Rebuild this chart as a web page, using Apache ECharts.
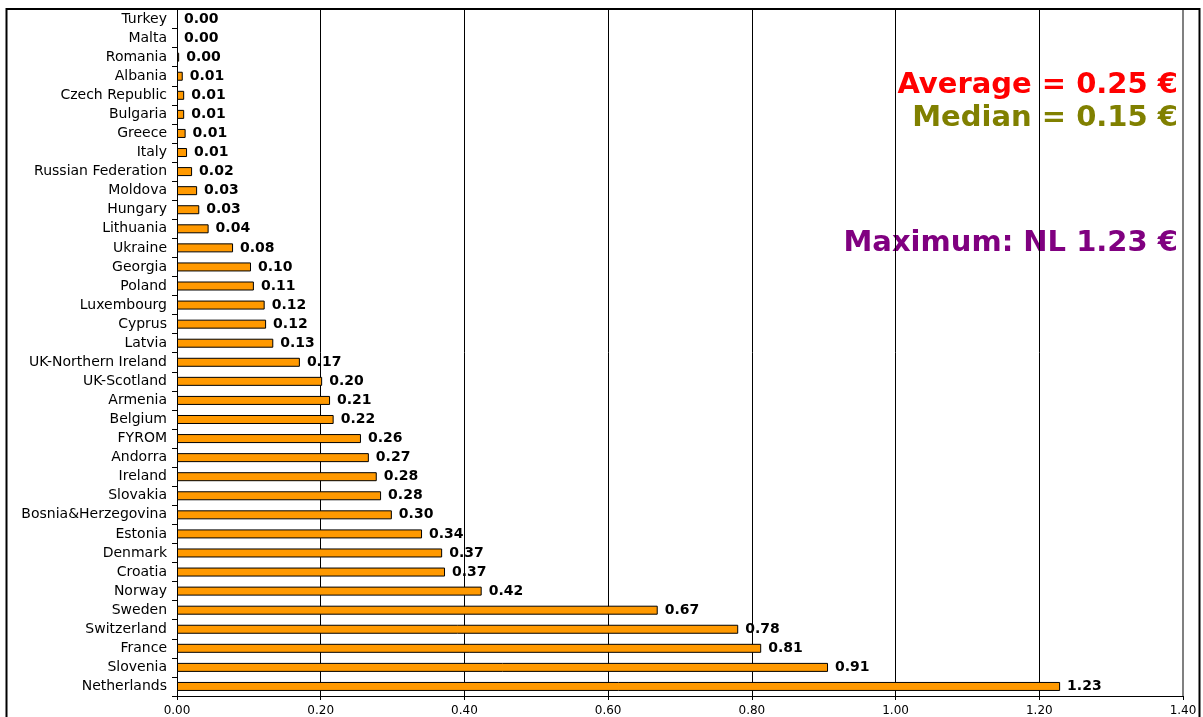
<!DOCTYPE html>
<html>
<head>
<meta charset="utf-8">
<script src="https://cdn.jsdelivr.net/npm/echarts@6/dist/echarts.min.js"></script>
<style>
  html, body { margin: 0; padding: 0; background: #ffffff; }
  #chart { width: 1203px; height: 717px; }
</style>
</head>
<body>
<div id="chart"></div>
<script>
// Countries, top to bottom
const countries = [
  'Turkey', 'Malta', 'Romania', 'Albania', 'Czech Republic', 'Bulgaria', 'Greece', 'Italy',
  'Russian Federation', 'Moldova', 'Hungary', 'Lithuania', 'Ukraine', 'Georgia', 'Poland',
  'Luxembourg', 'Cyprus', 'Latvia', 'UK-Northern Ireland', 'UK-Scotland', 'Armenia', 'Belgium',
  'FYROM', 'Andorra', 'Ireland', 'Slovakia', 'Bosnia&Herzegovina', 'Estonia', 'Denmark',
  'Croatia', 'Norway', 'Sweden', 'Switzerland', 'France', 'Slovenia', 'Netherlands'
];

// Amount per inhabitant (€)
const amounts = [
  0.000, 0.000, 0.003, 0.008, 0.010, 0.010, 0.012, 0.014,
  0.021, 0.028, 0.031, 0.044, 0.078, 0.103, 0.107,
  0.122, 0.124, 0.134, 0.171, 0.202, 0.213, 0.218,
  0.256, 0.267, 0.278, 0.284, 0.299, 0.341, 0.369,
  0.373, 0.424, 0.669, 0.781, 0.813, 0.906, 1.229
];

// Value axis ticks
const axisMin = 0;
const axisMax = 1.4;
const axisStep = 0.2;

// Summary statistics shown at the top right
const summaryLines = [
  { text: 'Average = 0.25 €', color: '#ff0000' },
  { text: 'Median = 0.15 €', color: '#808000' },
  { text: 'Maximum: NL 1.23 €', color: '#800080' }
];

const chart = echarts.init(document.getElementById('chart'), null, { renderer: 'canvas' });

const FONT = '"DejaVu Sans", Verdana, sans-serif';

// zero-height bars are left without an outline
const barData = amounts.map(v => (v === 0 ? { value: v, itemStyle: { borderWidth: 0 } } : v));

chart.setOption({
  animation: false,
  backgroundColor: '#ffffff',
  grid: { left: 177, right: 20, top: 9.5, bottom: 21, containLabel: false },
  xAxis: {
    type: 'value',
    min: axisMin,
    max: axisMax,
    interval: axisStep,
    axisLine: { show: true, lineStyle: { color: '#000000', width: 1 } },
    axisTick: { show: true, length: 4, lineStyle: { color: '#000000' } },
    axisLabel: {
      color: '#000000', fontFamily: FONT, fontSize: 12, margin: 9,
      formatter: v => v.toFixed(2)
    },
    splitLine: {
      show: true,
      lineStyle: { color: ['#000000', '#000000', '#000000', '#000000', '#000000', '#000000', '#000000', '#808080'], width: 1 }
    }
  },
  yAxis: {
    type: 'category',
    inverse: true,
    data: countries,
    axisLine: { show: true, lineStyle: { color: '#000000', width: 1 } },
    axisTick: { show: true, length: 5, lineStyle: { color: '#000000' } },
    axisLabel: { color: '#000000', fontFamily: FONT, fontSize: 14, margin: 10 },
    splitLine: { show: false }
  },
  series: [{
    type: 'bar',
    data: barData,
    barWidth: 9,
    itemStyle: { color: '#ff9900', borderColor: '#000000', borderWidth: 1 },
    label: {
      show: true,
      position: 'right',
      distance: 7,
      color: '#000000',
      fontFamily: FONT,
      fontWeight: 'bold',
      fontSize: 14,
      formatter: p => p.value.toFixed(2)
    }
  }],
  graphic: [
    {
      type: 'rect',
      silent: true,
      shape: { x: 6.5, y: 9, width: 1193, height: 720 },
      style: { fill: null, stroke: '#000000', lineWidth: 2 },
      z: 100
    },
    {
      type: 'line',
      silent: true,
      shape: { x1: 1183, y1: 9.5, x2: 1183, y2: 696 },
      style: { stroke: '#808080', lineWidth: 2 },
      z: 99
    },
    {
      type: 'text', right: 25, top: 71,
      style: { text: summaryLines[0].text, fill: summaryLines[0].color, font: 'bold 29px ' + FONT, textAlign: 'right' }
    },
    {
      type: 'text', right: 25, top: 104,
      style: { text: summaryLines[1].text, fill: summaryLines[1].color, font: 'bold 29px ' + FONT, textAlign: 'right' }
    },
    {
      type: 'text', right: 25, top: 229,
      style: { text: summaryLines[2].text, fill: summaryLines[2].color, font: 'bold 29px ' + FONT, textAlign: 'right' }
    }
  ]
});
</script>
</body>
</html>
